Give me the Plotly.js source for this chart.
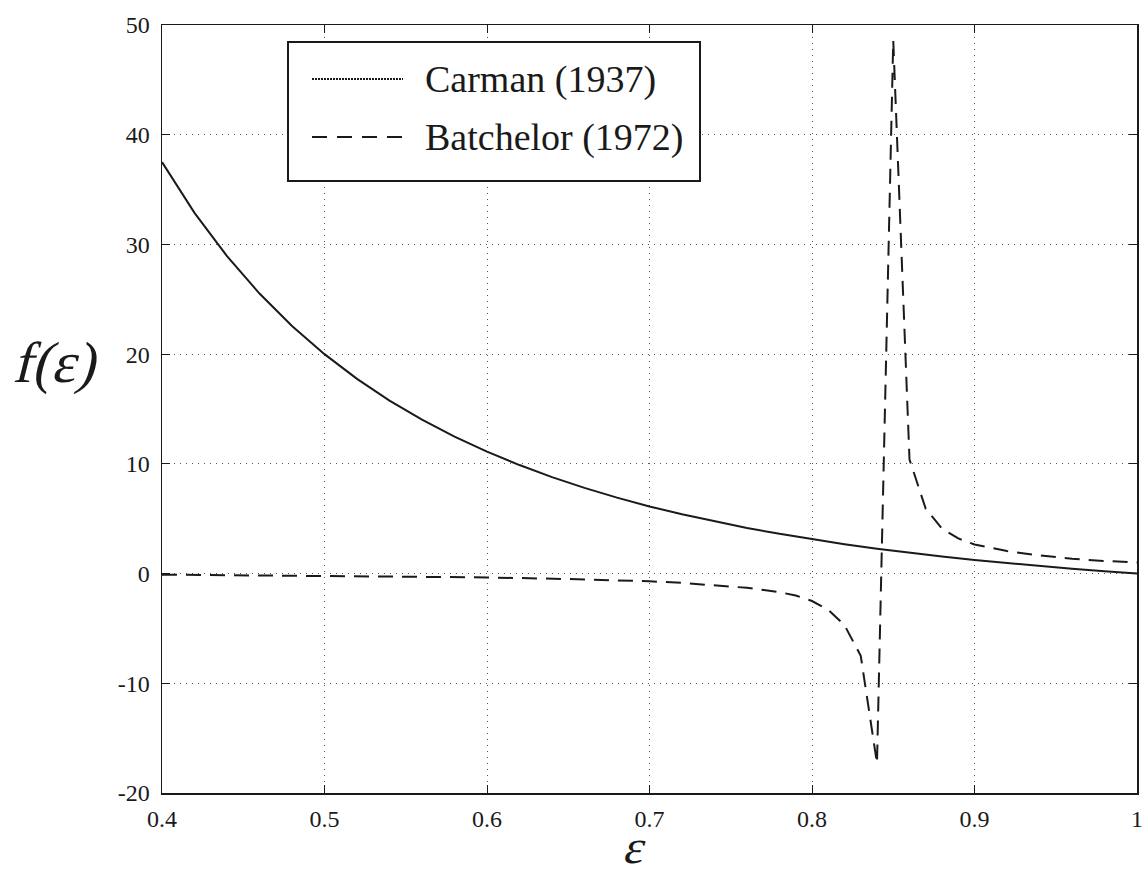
<!DOCTYPE html>
<html><head><meta charset="utf-8">
<script src="https://cdn.plot.ly/plotly-3.0.1.min.js"></script>
<style>html,body{margin:0;padding:0;background:#fff}</style>
</head><body><div id="chart" style="width:1144px;height:875px"></div>
<script>
// Carman (1937) curve values
const carmanEps = [0.40,0.42,0.44,0.46,0.48,0.50,0.52,0.54,0.56,0.58,0.60,0.62,0.64,0.66,0.68,0.70,0.72,0.74,0.76,0.78,0.80,0.82,0.84,0.86,0.88,0.90,0.92,0.94,0.96,0.98,1.00];
const carmanF   = [37.5,32.88,28.93,25.52,22.57,20.0,17.75,15.77,14.03,12.49,11.11,9.89,8.79,7.81,6.92,6.12,5.40,4.75,4.16,3.62,3.13,2.68,2.27,1.89,1.55,1.23,0.95,0.68,0.43,0.21,0.0];

// Batchelor (1972) curve values
const batchEps = [0.40,0.45,0.50,0.55,0.60,0.65,0.70,0.72,0.74,0.76,0.78,0.79,0.80,0.81,0.82,0.83,0.84,0.85,0.86,0.87,0.88,0.89,0.90,0.92,0.94,0.96,0.98,1.00];
const batchF   = [-0.1,-0.15,-0.2,-0.25,-0.35,-0.5,-0.7,-0.85,-1.05,-1.3,-1.7,-2.0,-2.5,-3.3,-4.7,-7.5,-17.3,48.6,10.4,5.9,4.1,3.2,2.65,2.05,1.65,1.35,1.15,1.0];

const xTickVals = [0.4,0.5,0.6,0.7,0.8,0.9,1.0];
const xTickText = ['0.4','0.5','0.6','0.7','0.8','0.9','1'];
const yTickVals = [-20,-10,0,10,20,30,40,50];
const yTickText = ['-20','-10','0','10','20','30','40','50'];
const seriesNames = ['Carman (1937)','Batchelor (1972)'];
const yTitle = 'f(ε)';
const xTitle = 'ε';

const FONT = 'Liberation Serif';
const INK = '#1a1a1a';

const traces = [
  {x: carmanEps, y: carmanF, mode:'lines', name: seriesNames[0], showlegend:false,
   line:{color:INK, width:2, dash:'solid'}},
  {x: batchEps, y: batchF, mode:'lines', name: seriesNames[1], showlegend:false,
   line:{color:INK, width:2, dash:'15px,9px'}}
];

// legend drawn as shapes/annotations (paper coordinates)
const L = 162, R = 1137, T = 25, B = 793;
const px = v => (v - L) / (R - L);
const py = v => (B - v) / (B - T);

const shapes = [
  {type:'rect', xref:'paper', yref:'paper', x0:px(288), x1:px(700), y0:py(181), y1:py(42),
   line:{color:INK, width:2}, fillcolor:'#ffffff', layer:'above'},
  {type:'line', xref:'paper', yref:'paper', x0:px(312), x1:px(403), y0:py(79), y1:py(79),
   line:{color:INK, width:2, dash:'2px,1px'}, layer:'above'},
  {type:'line', xref:'paper', yref:'paper', x0:px(312), x1:px(403), y0:py(137), y1:py(137),
   line:{color:INK, width:2, dash:'15px,10px'}, layer:'above'}
];

const annotations = [
  {xref:'paper', yref:'paper', x:px(423), y:py(79), xanchor:'left', yanchor:'middle',
   text: seriesNames[0], showarrow:false, font:{family:FONT, size:38, color:INK}},
  {xref:'paper', yref:'paper', x:px(423), y:py(137), xanchor:'left', yanchor:'middle',
   text: seriesNames[1], showarrow:false, font:{family:FONT, size:38, color:INK}},
  {xref:'paper', yref:'paper', x:px(58), y:py(362), xanchor:'center', yanchor:'middle',
   text: yTitle, showarrow:false, font:{family:FONT, size:58, color:INK}},
  {xref:'paper', yref:'paper', x:px(636), y:py(875), xanchor:'center', yanchor:'bottom',
   text: xTitle, showarrow:false, font:{family:FONT, size:48, color:INK}}
];

const axisCommon = {
  showline:true, linecolor:INK, linewidth:1.5, mirror:'ticks',
  ticks:'inside', ticklen:8, tickcolor:INK, tickwidth:1,
  showgrid:true, gridcolor:'#555', gridwidth:1, griddash:'1px,5px',
  zeroline:false, tickfont:{family:FONT, size:24, color:INK}
};

const layout = {
  width:1144, height:875,
  margin:{l:L, r:1144-R, t:T, b:875-B},
  paper_bgcolor:'#fff', plot_bgcolor:'#fff',
  showlegend:false,
  xaxis: Object.assign({}, axisCommon, {range:[0.4,1.0], tickvals:xTickVals, ticktext:xTickText, ticklabelstandoff:4}),
  yaxis: Object.assign({}, axisCommon, {range:[-20,50], tickvals:yTickVals, ticktext:yTickText, ticklabelstandoff:6}),
  shapes: shapes,
  annotations: annotations
};

Plotly.newPlot('chart', traces, layout, {staticPlot:true, displayModeBar:false}).then(gd => {
  // slant the two axis-title annotations (serif italic faces are not installed)
  const texts = gd.querySelectorAll('.annotation-text');
  const t = Math.tan(14 * Math.PI / 180);
  [2, 3].forEach(i => {
    const el = texts[i];
    if (!el) return;
    const bb = el.getBBox();
    const cy = bb.y + bb.height / 2;
    el.setAttribute('transform', `translate(${(t * cy).toFixed(2)},0) skewX(-14)`);
  });
});
</script>
</body></html>
